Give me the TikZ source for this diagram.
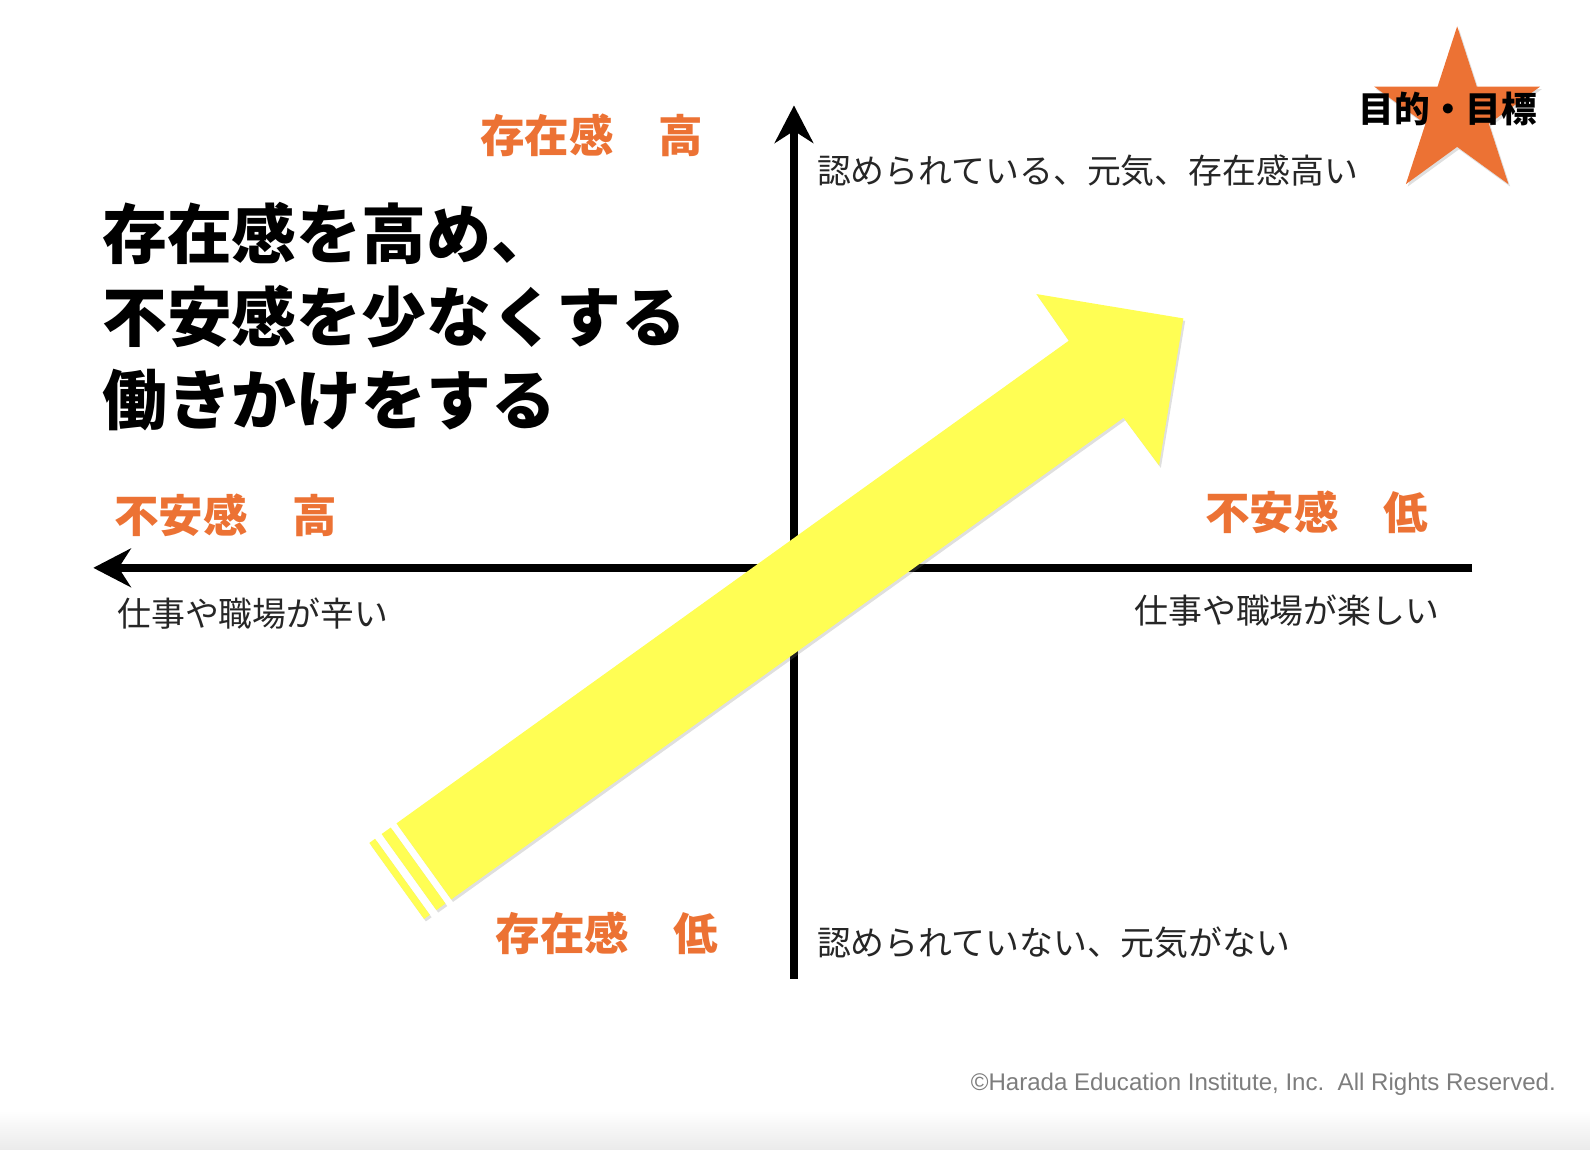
\documentclass[tikz,border=0pt]{standalone}
\usepackage{fontspec}
\setmainfont{Liberation Sans}
\newfontfamily\jp{Noto Sans CJK JP}
\usetikzlibrary{arrows.meta,shapes.geometric,shadows,calc}
\definecolor{accent}{RGB}{236,114,52}
\definecolor{marker}{RGB}{255,254,84}
\definecolor{credit}{RGB}{125,125,125}
\tikzset{
  axis/.style={line width=2.3pt,-{Stealth[length=3.7mm,width=3.8mm,inset=1.2mm]}},
  level/.style={anchor=west,inner sep=0pt,text=accent,font=\jp\bfseries\fontsize{12.5}{15}\selectfont},
  remark/.style={anchor=west,inner sep=0pt,text=black!85,font=\jp\fontsize{9.5}{11}\selectfont},
  soft/.style={drop shadow={shadow xshift=0.5pt,shadow yshift=-0.7pt,opacity=0.25}},
}
\begin{document}
\begin{tikzpicture}[x=0.01cm,y=-0.01cm]
\useasboundingbox (0,0) rectangle (1568,1134);
% a faint band at the foot
\shade[top color=white,bottom color=black!8] (0,1095) rectangle (1568,1134);
% the two axes
\coordinate (xRight) at (1452,560);
\coordinate (xLeft) at (92,560);
\coordinate (yBottom) at (783,965);
\coordinate (yTop) at (783,104);
\draw[axis] (xRight) -- (xLeft);
\draw[axis] (yBottom) -- (yTop);
% the big yellow arrow and its tail stripes
\coordinate (tailT) at (391,812);
\coordinate (tailB) at (445,887);
\fill[marker,soft] (tailT) -- (1054,336) -- (1022,290) -- (1167,314) -- (1143,459) -- (1108,412) -- (tailB) -- cycle;
\foreach \near/\far in {7/18,26/33}
  \fill[marker,soft] ($(tailT)+(-0.8125*\near,0.5833*\near)$) -- ($(tailT)+(-0.8125*\far,0.5833*\far)$)
    -- ($(tailB)+(-0.8125*\far,0.5833*\far)$) -- ($(tailB)+(-0.8125*\near,0.5833*\near)$) -- cycle;
% the goal star
\node[star,star points=5,star point ratio=2.618,minimum size=1.72cm,inner sep=0pt,fill=accent,soft] (goalStar) at (1437,112) {};
\node[inner sep=0pt,font=\jp\bfseries\fontsize{10}{12}\selectfont] (goalText) at (1428,107) {目的・目標};
% the aim
\node[anchor=west,align=left,inner sep=0pt,font=\jp\bfseries\fontsize{18.2}{23.3}\selectfont] (aim) at (100,312) {存在感を高め、\\不安感を少なくする\\働きかけをする};
% axis labels
\node[level] (presHigh) at (473,133) {存在感　高};
\node[level] (presLow) at (488,920) {存在感　低};
\node[level] (anxHigh) at (112,508) {不安感　高};
\node[level] (anxLow) at (1188,505) {不安感　低};
\node[remark] (topNote) at (805,168) {認められている、元気、存在感高い};
\node[remark] (bottomNote) at (805,930) {認められていない、元気がない};
\node[remark] (leftNote) at (115,605) {仕事や職場が辛い};
\node[remark] (rightNote) at (1118,602) {仕事や職場が楽しい};
% credit line
\node[anchor=east,inner sep=0pt,text=credit,font=\fontsize{6.75}{8}\selectfont] (creditLine) at (1535,1069) {©Harada Education Institute, Inc.~~All Rights Reserved.};
\end{tikzpicture}
\end{document}
